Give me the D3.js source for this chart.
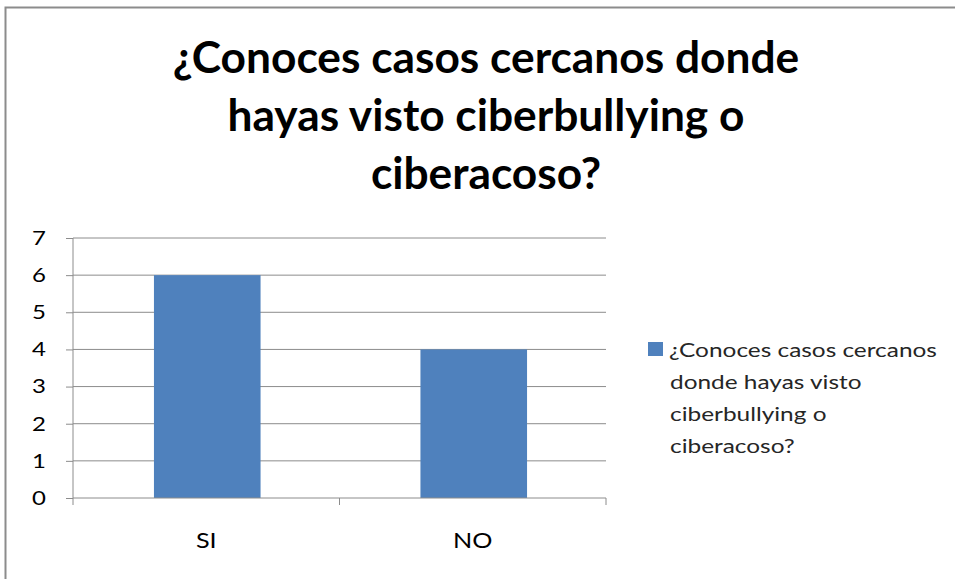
<!DOCTYPE html>
<html><head><meta charset="utf-8">
<script src="https://cdn.jsdelivr.net/npm/d3@7"></script>
<style>body{margin:0;background:#fff}svg{display:block}</style>
</head><body>
<script>
const categories = ["SI", "NO"];
const values = [6, 4];
const yTicks = [0, 1, 2, 3, 4, 5, 6, 7];
const titleLines = ["¿Conoces casos cercanos donde", "hayas visto ciberbullying o", "ciberacoso?"];
const legendLines = ["¿Conoces casos cercanos", "donde hayas visto", "ciberbullying o", "ciberacoso?"];

const W = 955, H = 579;
const svg = d3.select("body").append("svg").attr("width", W).attr("height", H);
svg.append("rect").attr("x", 5.5).attr("y", 7.5).attr("width", 960).attr("height", 600)
  .attr("fill", "#fff").attr("stroke", "#8c8c8c").attr("stroke-width", 2);

const font = "Lato, 'Open Sans', sans-serif";
svg.append("g").selectAll("text").data(titleLines).join("text")
  .attr("transform", (d, i) => `translate(486,${73 + i * 58}) scale(1.03,1)`)
  .attr("text-anchor", "middle").attr("font-family", font).attr("font-weight", "bold")
  .attr("font-size", 43).attr("fill", "#000").text(d => d);

const x0 = 73, x1 = 606, yTop = 238, yBot = 498;
const x = d3.scaleBand().domain(categories).range([x0, x1]).paddingInner(0).paddingOuter(0);
const y = d3.scaleLinear().domain([0, 7]).range([yBot, yTop]);

const g = svg.append("g");
g.selectAll("line.grid").data(yTicks.filter(t => t > 0)).join("line")
  .attr("x1", x0).attr("x2", x1).attr("y1", d => y(d)).attr("y2", d => y(d))
  .attr("stroke", "#8c8c8c").attr("stroke-width", 1);

const bw = x.bandwidth() * 0.4;
g.selectAll("rect.bar").data(categories).join("rect")
  .attr("x", d => x(d) + (x.bandwidth() - bw) / 2 + 1)
  .attr("width", bw)
  .attr("y", (d, i) => y(values[i]))
  .attr("height", (d, i) => y(0) - y(values[i]))
  .attr("fill", "#4F81BD");

const yAxis = d3.axisLeft(y).tickValues(yTicks).tickSize(7).tickPadding(15.5).tickFormat(d3.format("d"));
const ya = svg.append("g").attr("transform", `translate(${x0},0)`).call(yAxis);
ya.select(".domain").attr("stroke", "#8c8c8c").attr("d", `M0,${yTop}V${yBot}`);
ya.selectAll(".tick line").attr("stroke", "#8c8c8c");
ya.selectAll(".tick text").attr("font-family", font).attr("font-size", 20).attr("fill", "#000")
  .attr("transform", "scale(1.2,1)");

const xa = svg.append("g").attr("transform", `translate(0,${yBot})`)
  .call(d3.axisBottom(x).tickSize(0).tickPadding(0));
xa.select(".domain").attr("stroke", "#8c8c8c").attr("d", `M${x0},7V0H${x1}V7`);
xa.selectAll(".tick text").attr("font-family", font).attr("font-size", 21).attr("fill", "#000")
  .attr("dy", null).attr("y", 50).attr("transform", "scale(1.2,1)");
svg.append("g").selectAll("line").data(categories.slice(1)).join("line")
  .attr("x1", d => x(d)).attr("x2", d => x(d)).attr("y1", yBot).attr("y2", yBot + 7)
  .attr("stroke", "#8c8c8c");

const lg = svg.append("g");
lg.append("rect").attr("x", 648).attr("y", 342).attr("width", 15).attr("height", 14).attr("fill", "#4F81BD");
lg.selectAll("text").data(legendLines).join("text")
  .attr("transform", (d, i) => `translate(${i === 0 ? 669 : 670},${357 + i * 32}) scale(1.22,1)`)
  .attr("font-family", font).attr("font-size", 20).attr("fill", "#262626").text(d => d);
</script>
</body></html>
